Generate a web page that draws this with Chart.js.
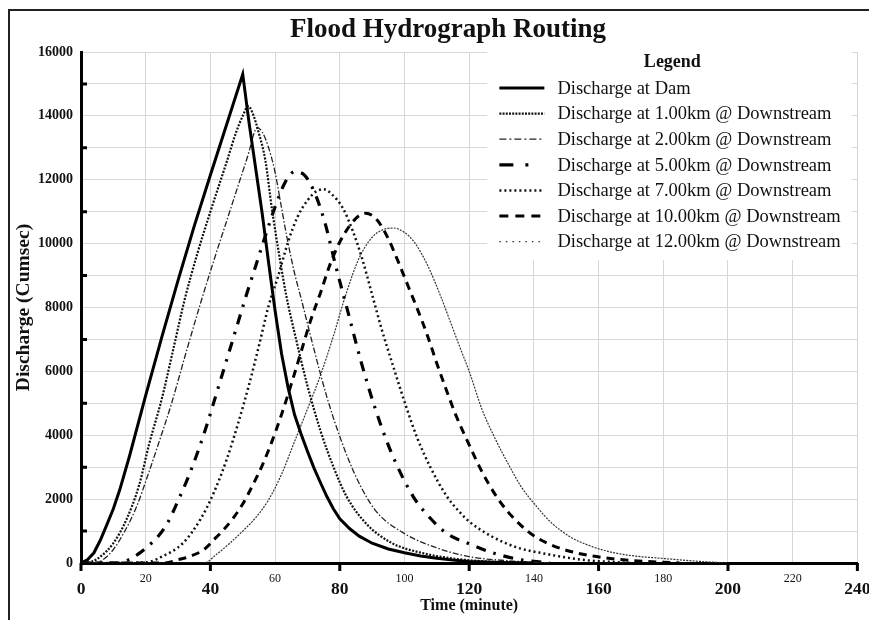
<!DOCTYPE html>
<html>
<head>
<meta charset="utf-8">
<title>Flood Hydrograph Routing</title>
<script src="https://cdn.jsdelivr.net/npm/chart.js@4.4.1/dist/chart.umd.min.js"></script>
<style>
  html, body { margin: 0; padding: 0; background: #fff; overflow: hidden; }
  #frame { position: absolute; left: 8px; top: 9px; width: 876px; height: 609px;
           border-left: 2px solid #222; border-top: 2px solid #222; }
</style>
</head>
<body>
<div id="frame"><canvas id="floodChart"></canvas></div>
<script>
const seriesLabels = [
  "Discharge at Dam",
  "Discharge at 1.00km @ Downstream",
  "Discharge at 2.00km @ Downstream",
  "Discharge at 5.00km @ Downstream",
  "Discharge at 7.00km @ Downstream",
  "Discharge at 10.00km @ Downstream",
  "Discharge at 12.00km @ Downstream"
];

// time (minute) / discharge (cumsec)
const tDam = [0, 2, 4, 6, 8, 10, 12, 15, 20, 25, 30, 35, 40, 45, 50, 52, 54, 56, 58, 60, 62, 64, 66, 68, 70, 72, 74, 76, 78, 80, 83, 86, 90, 95, 100, 105, 110, 115, 120, 130, 140];
const qDam = [0, 100, 320, 720, 1200, 1700, 2300, 3350, 5250, 7080, 8850, 10550, 12150, 13720, 15300, 13750, 12350, 10950, 9400, 7900, 6550, 5500, 4650, 4050, 3500, 2980, 2520, 2080, 1700, 1380, 1080, 840, 620, 440, 320, 220, 150, 90, 50, 15, 0];

const t1km = [0, 3, 6, 10, 14, 18, 21, 25, 28.5, 32, 36, 40, 45, 48, 50, 51.7, 53, 55, 57, 59, 61.5, 63.5, 66.5, 70, 74, 78, 82, 88, 96, 106, 115, 125, 140];
const q1km = [0, 30, 200, 620, 1350, 2450, 3700, 5150, 6680, 8230, 9700, 11000, 12550, 13500, 14000, 14300, 14100, 13450, 12600, 11100, 9500, 8350, 7000, 5550, 4150, 3020, 2100, 1250, 630, 300, 140, 50, 0];

const t2km = [0, 4, 9, 13, 17, 20.5, 24, 28, 32.5, 37, 41, 45, 49, 52, 53.3, 54.5, 56, 58, 60, 61.5, 63.6, 66, 68, 72, 76, 80, 85, 91, 100, 109, 120, 132, 145];
const q2km = [0, 0, 300, 900, 1720, 2700, 3750, 5000, 6600, 8150, 9450, 10700, 11950, 12900, 13400, 13630, 13500, 13000, 12230, 11400, 10230, 9080, 8300, 6700, 5200, 3960, 2700, 1650, 920, 510, 200, 70, 0];

const t5km = [0, 12, 15, 18, 21, 24, 27, 30, 33, 36, 39, 42, 45, 48, 51, 54, 57, 60, 63, 66, 69, 72, 75.4, 78.5, 82.6, 86.7, 90.9, 96, 102.7, 108, 113, 120, 127, 135, 145];
const q5km = [0, 0, 120, 300, 550, 850, 1300, 1950, 2650, 3450, 4350, 5350, 6350, 7350, 8350, 9300, 10250, 11150, 11900, 12250, 12150, 11650, 10660, 9400, 7830, 6260, 4850, 3440, 2080, 1400, 930, 600, 330, 120, 0];

const t7km = [0, 20, 25, 31.5, 37, 41, 45, 48.5, 52, 55, 58, 61, 64, 67, 70, 72.5, 75, 77.5, 81, 84, 87, 90, 93, 96.5, 100.5, 104, 108, 113, 117, 120, 127, 135, 143, 155, 170];
const q7km = [0, 20, 200, 620, 1380, 2190, 3230, 4350, 5600, 6800, 8050, 9000, 10050, 10850, 11350, 11620, 11700, 11550, 11100, 10400, 9500, 8400, 7300, 6160, 4900, 3900, 3000, 2100, 1600, 1300, 830, 480, 300, 100, 0];

const t10km = [0, 26, 30, 34, 38, 41, 44, 47, 50, 53, 56, 59, 62, 65, 68, 71, 74, 77, 80, 83, 86, 88, 90, 92, 95, 98, 101, 104, 107, 110, 113, 116, 120, 124, 128, 132, 136, 140, 145, 150, 158, 170, 185];
const q10km = [0, 0, 100, 220, 420, 720, 1030, 1400, 1850, 2420, 3050, 3800, 4650, 5600, 6600, 7600, 8450, 9350, 10050, 10550, 10880, 10950, 10880, 10680, 10150, 9450, 8700, 7950, 7150, 6250, 5400, 4600, 3700, 2850, 2150, 1600, 1180, 850, 580, 400, 220, 80, 0];

const t12km = [0, 38, 42, 46, 50, 54, 58, 62, 66, 70, 74, 78, 82, 86, 90, 93, 96.5, 100, 103, 107, 111, 114, 117, 120, 124, 128, 132.5, 136, 141, 145, 151, 157, 163.5, 171, 179, 190, 200];
const q12km = [0, 0, 280, 620, 1000, 1420, 1980, 2780, 3800, 4820, 5870, 7100, 8450, 9550, 10200, 10420, 10490, 10350, 10050, 9350, 8400, 7600, 6790, 6000, 4800, 3900, 3020, 2400, 1750, 1300, 830, 550, 350, 220, 150, 60, 0];

const xMajorTicks = [0, 40, 80, 120, 160, 200, 240];
const yLabelTicks = [0, 2000, 4000, 6000, 8000, 10000, 12000, 14000, 16000];
const yMinorMarks = [1000, 3000, 5000, 7000, 9000, 11000, 13000, 15000];

const serif = "'Liberation Serif', 'Times New Roman', serif";
Chart.defaults.font.family = serif;
Chart.defaults.color = "#111";

function toPoints(ts, qs) {
  return ts.map((t, i) => ({ x: t, y: qs[i] }));
}

const allTimes = [tDam, t1km, t2km, t5km, t7km, t10km, t12km];
const allFlows = [qDam, q1km, q2km, q5km, q7km, q10km, q12km];
const lineStyles = [
  { width: 3, dash: [], legendDash: [], color: "#000" },
  { width: 2.2, dash: [2, 1.5], legendDash: [2, 1.2], color: "#111" },
  { width: 1.3, dash: [6, 2, 1.5, 2], legendDash: [7, 3, 2, 3], color: "#222" },
  { width: 3.2, dash: [10, 8, 2.5, 8], legendDash: [14, 12, 3, 30], color: "#000" },
  { width: 2.5, dash: [2, 3], legendDash: [2, 3], color: "#111" },
  { width: 3, dash: [8, 6], legendDash: [9, 7], color: "#000" },
  { width: 1.2, dash: [2, 1.2], legendDash: [1.5, 5], color: "#333" }
];

const datasets = seriesLabels.map((label, i) => ({
  label: label,
  data: toPoints(allTimes[i], allFlows[i]),
  borderColor: lineStyles[i].color,
  borderWidth: lineStyles[i].width,
  borderDash: lineStyles[i].dash,
  legendDash: lineStyles[i].legendDash,
  pointRadius: 0,
  fill: false,
  tension: i === 0 ? 0 : 0.4,
  cubicInterpolationMode: i === 0 ? "default" : "monotone"
}));

// legend box in the upper right of the plot, covering the grid
const boxLegend = {
  id: "boxLegend",
  afterDatasetsDraw(chart) {
    const { ctx, chartArea } = chart;
    const left = chartArea.right - 370;
    const top = chartArea.top - 7;
    ctx.save();
    ctx.fillStyle = "#fff";
    ctx.fillRect(left, top, 365, 215);
    ctx.fillStyle = "#111";
    ctx.textBaseline = "middle";
    ctx.textAlign = "center";
    ctx.font = "bold 18px " + serif;
    ctx.fillText("Legend", left + 185, top + 17);
    ctx.textAlign = "left";
    ctx.font = "18.5px " + serif;
    chart.data.datasets.forEach((ds, i) => {
      const yy = top + 43 + i * 25.6;
      ctx.strokeStyle = ds.borderColor;
      ctx.lineWidth = ds.borderWidth;
      ctx.setLineDash(ds.legendDash);
      ctx.beginPath();
      ctx.moveTo(left + 12, yy);
      ctx.lineTo(left + 57, yy);
      ctx.stroke();
      ctx.setLineDash([]);
      ctx.fillText(ds.label, left + 70, yy + 1);
    });
    ctx.restore();
  }
};

// tick marks: minor ones inside on the y axis, major ones below the x axis
const axisMarks = {
  id: "axisMarks",
  afterDraw(chart) {
    const { ctx, chartArea, scales } = chart;
    ctx.save();
    ctx.strokeStyle = "#000";
    ctx.lineWidth = 3;
    ctx.beginPath();
    yMinorMarks.forEach(v => {
      const py = scales.y.getPixelForValue(v);
      ctx.moveTo(chartArea.left, py);
      ctx.lineTo(chartArea.left + 6, py);
    });
    xMajorTicks.forEach(v => {
      const px = scales.x.getPixelForValue(v);
      ctx.moveTo(px, chartArea.bottom);
      ctx.lineTo(px, chartArea.bottom + 8);
    });
    ctx.stroke();
    ctx.restore();
  }
};

const ctx = document.getElementById("floodChart").getContext("2d");
new Chart(ctx, {
  type: "line",
  data: { datasets: datasets },
  plugins: [boxLegend, axisMarks],
  options: {
    responsive: true,
    maintainAspectRatio: false,
    animation: false,
    events: [],
    layout: { padding: 0 },
    plugins: {
      legend: { display: false },
      tooltip: { enabled: false },
      title: {
        display: true,
        text: "Flood Hydrograph Routing",
        color: "#111",
        font: { size: 27, weight: "bold", family: serif },
        padding: { top: 3, bottom: 5.6 }
      }
    },
    scales: {
      x: {
        type: "linear",
        min: 0,
        max: 240,
        afterFit(scale) { scale.height = 57; },
        grid: { color: "#d6d6d6", lineWidth: 1, drawTicks: false },
        border: { color: "#000", width: 3 },
        ticks: {
          stepSize: 20,
          autoSkip: false,
          maxRotation: 0,
          padding: 15.5,
          color: "#111",
          font: c => (c.tick && c.tick.value % 40 === 0)
            ? { size: 17.5, weight: "bold", lineHeight: "21px" }
            : { size: 12, weight: "normal", lineHeight: "1px" }
        },
        title: {
          display: true,
          text: "Time (minute)",
          color: "#111",
          font: { size: 16, weight: "bold" },
          padding: { top: 0, bottom: 4.4 }
        }
      },
      y: {
        min: 0,
        max: 16000,
        afterFit(scale) { scale.width = 71; },
        grid: { color: "#d6d6d6", lineWidth: 1, drawTicks: false },
        border: { color: "#000", width: 3 },
        ticks: {
          stepSize: 1000,
          autoSkip: false,
          padding: 8,
          color: "#111",
          font: { size: 14, weight: "bold" },
          callback: v => yLabelTicks.includes(v) ? String(v) : ""
        },
        title: {
          display: true,
          text: "Discharge (Cumsec)",
          color: "#111",
          font: { size: 19.5, weight: "bold" },
          padding: { top: 2.3, bottom: 0 }
        }
      }
    }
  }
});
</script>
</body>
</html>
